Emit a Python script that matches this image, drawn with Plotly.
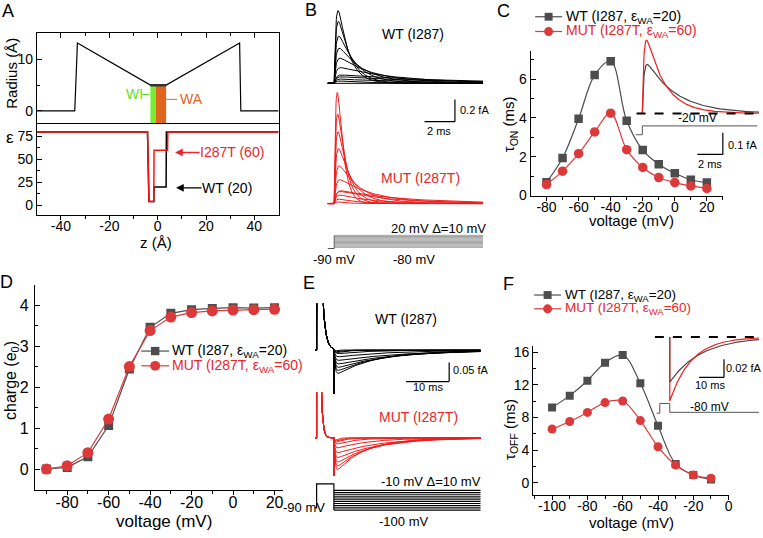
import numpy as np
import plotly.graph_objects as go

W, H = 763, 538
FONT = "Liberation Sans, Arial, sans-serif"

# ======================= DATA =======================
# Panel A: pore radius profile and dielectric profile
z_radius = [-50, -34.3, -33.2, -3.0, 3.5, 33.9, 34.4, 50]
radius_A = [0, 0, 13.2, 5.0, 5.0, 13.2, 0, 0]
z_eps_wt = [-50, -4.2, -3.6, -1.6, -1.5, 3.5, 3.6, 50]
eps_wt = [80, 80, 4, 4, 20, 20, 80, 80]
z_eps_mut = [-50, -4.2, -3.6, -1.6, -1.5, 4.1, 4.2, 50]
eps_mut = [80, 80, 4, 4, 60, 60, 80, 80]
region_names = ["WI", "WA"]
region_z_start = [-3.0, -0.8]
region_z_end = [-0.8, 3.5]
region_radius = [5.0, 5.0]

# Panel C: tau_on vs voltage
v_on = [-80, -70, -60, -50, -40, -30, -20, -10, 0, 10, 20]
tau_on_wt = [0.68, 1.93, 3.95, 6.20, 6.92, 3.85, 2.34, 1.61, 1.14, 0.81, 0.66]
tau_on_mut = [0.56, 1.25, 2.15, 3.27, 4.24, 2.36, 1.44, 0.92, 0.66, 0.49, 0.36]

# Panel D: charge vs voltage
v_charge = [-90, -80, -70, -60, -50, -40, -30, -20, -10, 0, 10, 20]
charge_wt = [0.0, 0.04, 0.30, 1.06, 2.44, 3.46, 3.80, 3.89, 3.92, 3.94, 3.93, 3.94]
charge_mut = [0.0, 0.08, 0.40, 1.22, 2.50, 3.38, 3.71, 3.82, 3.86, 3.88, 3.89, 3.90]

# Panel F: tau_off vs voltage
v_off = [-100, -90, -80, -70, -60, -50, -40, -30, -20, -10]
tau_off_wt = [9.22, 10.67, 12.5, 14.7, 15.64, 12.19, 6.98, 2.3, 0.96, 0.40]
tau_off_mut = [6.58, 7.50, 8.62, 9.82, 10.02, 7.62, 4.41, 2.17, 0.96, 0.56]

# Tick values / labels
A_z_ticks = [-40, -20, 0, 20, 40]
A_z_labels = ["-40", "-20", "0", "20", "40"]
A_r_ticks = [0, 10]
A_r_labels = ["0", "10"]
A_e_ticks = [0, 25, 50, 75]
A_e_labels = ["0", "25", "50", "75"]
C_v_ticks = [-80, -60, -40, -20, 0, 20]
C_v_labels = ["-80", "-60", "-40", "-20", "0", "20"]
C_t_ticks = [0, 2, 4, 6]
C_t_labels = ["0", "2", "4", "6"]
D_v_ticks = [-80, -60, -40, -20, 0, 20]
D_v_labels = ["-80", "-60", "-40", "-20", "0", "20"]
D_q_ticks = [0, 1, 2, 3, 4]
D_q_labels = ["0", "1", "2", "3", "4"]
F_v_ticks = [-100, -80, -60, -40, -20, 0]
F_v_labels = ["-100", "-80", "-60", "-40", "-20", "0"]
F_t_ticks = [0, 4, 8, 12, 16]
F_t_labels = ["0", "4", "8", "12", "16"]

# Simulation / protocol constants (gating currents built from C, D, F data)
E0_FA = 0.16          # fA per (e0/ms)
TR_ON_MS = 0.12
TR_OFF_MS = 0.25
HOLD_MV = -90
PREPULSE_MV = 20
PREPULSE_MS = 4.0
B_END_MS = 9.78
E_END_MS = 38.0
INSET_C_MV = -20
INSET_F_MV = -80
E_FAST_FA = {"WT": 0.115, "MUT": 0.10}

WT_COL = "#4d4d4d"
MUT_COL = "#dc3a3a"
TRACE_RED = "#f01e1e"


# ======================= helpers =======================
def xdom(l, r):
    return [l / W, r / W]


def ydom(top, bot):
    return [1 - bot / H, 1 - top / H]


def xlin(l, r, ref_px, ref_val, ppu):
    return [ref_val + (l - ref_px) / ppu, ref_val + (r - ref_px) / ppu]


def ylin(top, bot, ref_px, ref_val, ppu):
    return [ref_val - (bot - ref_px) / ppu, ref_val + (ref_px - top) / ppu]


def q_at(v, q):
    return float(np.interp(v, v_charge, q))


def tau_at(v, volts, taus):
    return taus[volts.index(v)]


def gating(t, q, tau, tr):
    t = np.asarray(t, float)
    tp = np.clip(t, 0, None)
    if tr > 0:
        y = q / (tau - tr) * (np.exp(-tp / tau) - np.exp(-tp / tr))
    else:
        y = q / tau * np.exp(-tp / tau)
    return np.where(t >= 0, E0_FA * y, 0.0)


fig = go.Figure()


def add(x, y, ax, **kw):
    fig.add_trace(go.Scatter(x=list(x), y=list(y), xaxis="x" + ("" if ax == 1 else str(ax)),
                             yaxis="y" + ("" if ax == 1 else str(ax)), hoverinfo="skip",
                             showlegend=False, **kw))


# ---------------- Panel A ----------------
add(z_radius, radius_A, 1, mode="lines", line=dict(color="black", width=1.2))
add(z_eps_wt, eps_wt, 2, mode="lines", line=dict(color="black", width=1.5))
add(z_eps_mut, eps_mut, 2, mode="lines", line=dict(color="#ff1010", width=1.5))

# ---------------- Panel B ----------------
t_B = np.concatenate([[-0.44], np.linspace(0, B_END_MS, 500)])
for v in v_on:
    add(t_B, gating(t_B, q_at(v, charge_wt), tau_at(v, v_on, tau_on_wt), TR_ON_MS), 3,
        mode="lines", line=dict(color="black", width=1))
for v in v_on:
    add(t_B, gating(t_B, q_at(v, charge_mut), tau_at(v, v_on, tau_on_mut), TR_ON_MS), 4,
        mode="lines", line=dict(color=TRACE_RED, width=1))
add([-0.44, 0, 0], [HOLD_MV, HOLD_MV, max(v_on)], 5, mode="lines", line=dict(color="#555", width=1))
for v in v_on:
    add([0, B_END_MS], [v, v], 5, mode="lines", line=dict(color="#777", width=0.7))

# ---------------- Panel C ----------------
add(v_on, tau_on_wt, 6, mode="lines+markers", line=dict(color=WT_COL, width=1.2, shape="spline"),
    marker=dict(symbol="square", size=8.5, color=WT_COL))
add(v_on, tau_on_mut, 6, mode="lines+markers", line=dict(color=MUT_COL, width=1.2, shape="spline"),
    marker=dict(symbol="circle", size=9.5, color=MUT_COL))
t_C = np.linspace(0, 9.13, 500)
add(t_C, gating(t_C, q_at(INSET_C_MV, charge_wt), tau_at(INSET_C_MV, v_on, tau_on_wt), TR_ON_MS), 7,
    mode="lines", line=dict(color="#444", width=1.2))
add(t_C, gating(t_C, q_at(INSET_C_MV, charge_mut), tau_at(INSET_C_MV, v_on, tau_on_mut), TR_ON_MS), 7,
    mode="lines", line=dict(color=TRACE_RED, width=1.2))
add([-0.52, 0, 0, 9.0], [HOLD_MV, HOLD_MV, INSET_C_MV, INSET_C_MV], 8, mode="lines",
    line=dict(color="#555", width=1))

# ---------------- Panel D ----------------
add(v_charge, charge_wt, 9, mode="lines+markers", line=dict(color=WT_COL, width=1.2),
    marker=dict(symbol="square", size=9, color=WT_COL))
add(v_charge, charge_mut, 9, mode="lines+markers", line=dict(color=MUT_COL, width=1.2),
    marker=dict(symbol="circle", size=11, color=MUT_COL))


# ---------------- Panel E ----------------
def e_trace(v, q, taus_on, taus_off, fast):
    q_pre = q_at(PREPULSE_MV, q)
    tau_pre = tau_at(PREPULSE_MV, v_on, taus_on)
    q_back = q_pre - q_at(v, q)
    tau_b = tau_at(v, v_off, taus_off)
    t1 = np.concatenate([[-0.37], np.linspace(0, PREPULSE_MS, 400, endpoint=False)])
    y1 = gating(t1, q_pre, tau_pre, TR_ON_MS)
    s = np.linspace(0, E_END_MS - PREPULSE_MS, 700)
    y3 = gating(s + PREPULSE_MS, q_pre, tau_pre, TR_ON_MS) - gating(s, q_back, tau_b, TR_OFF_MS)
    t = np.concatenate([t1, [PREPULSE_MS, PREPULSE_MS], s + PREPULSE_MS])
    y = np.concatenate([y1, [float(gating([PREPULSE_MS], q_pre, tau_pre, TR_ON_MS)[0]), -fast], y3])
    return t, y


for v in v_off:
    t, y = e_trace(v, charge_wt, tau_on_wt, tau_off_wt, E_FAST_FA["WT"])
    add(t, y, 10, mode="lines", line=dict(color="black", width=1))
for v in v_off:
    t, y = e_trace(v, charge_mut, tau_on_mut, tau_off_mut, E_FAST_FA["MUT"])
    add(t, y, 11, mode="lines", line=dict(color=TRACE_RED, width=1))
add([-0.37, 0, 0, PREPULSE_MS, PREPULSE_MS], [HOLD_MV, HOLD_MV, PREPULSE_MV, PREPULSE_MV, min(v_off)], 12,
    mode="lines", line=dict(color="black", width=1.2))
for v in v_off:
    add([PREPULSE_MS, E_END_MS], [v, v], 12, mode="lines", line=dict(color="black", width=1.2))

# ---------------- Panel F ----------------
add(v_off, tau_off_wt, 13, mode="lines+markers", line=dict(color=WT_COL, width=1.2, shape="spline"),
    marker=dict(symbol="square", size=8, color=WT_COL))
add(v_off, tau_off_mut, 13, mode="lines+markers", line=dict(color=MUT_COL, width=1.2, shape="spline"),
    marker=dict(symbol="circle", size=9, color=MUT_COL))
t_F = np.linspace(0, 35.9, 600)
for q, taus, col in [(charge_wt, tau_off_wt, "#444"), (charge_mut, tau_off_mut, TRACE_RED)]:
    qb = q_at(PREPULSE_MV, q) - q_at(INSET_F_MV, q)
    yF = -gating(t_F, qb, tau_at(INSET_F_MV, v_off, taus), 0.0)
    add(np.concatenate([[0.0], t_F]), np.concatenate([[0.0], yF]), 14, mode="lines",
        line=dict(color=col, width=1.2))
add([-5.3, -PREPULSE_MS, -PREPULSE_MS, 0, 0, 35.9],
    [HOLD_MV, HOLD_MV, PREPULSE_MV, PREPULSE_MV, INSET_F_MV, INSET_F_MV], 15, mode="lines",
    line=dict(color="#555", width=1))

# ======================= AXES =======================
AX = {
    1: (xdom(37, 280), [-50, 50], ydom(31.7, 124.3), [-2.6, 15.1]),
    2: (xdom(37, 280), [-50, 50], ydom(124.3, 216.7), [-10.7, 88.4]),
    3: (xdom(329.3, 485.7), xlin(329.3, 485.7, 336, 0, 15.3), ydom(3, 90), ylin(3, 90, 82.7, 0, 113)),
    4: (xdom(329.3, 485.7), xlin(329.3, 485.7, 336, 0, 15.3), ydom(88, 212), ylin(88, 212, 205, 0, 113)),
    5: (xdom(329.3, 485.7), xlin(329.3, 485.7, 336, 0, 15.3), ydom(230, 254), ylin(230, 254, 250.7, -90, 0.1218)),
    6: (xdom(533.3, 726.7), [-90, 30], ydom(50, 197.3), [-0.03, 7.435]),
    7: (xdom(638, 763), xlin(638, 763, 645.7, 0, 12.85), ydom(30, 160), ylin(30, 160, 113.3, 0, 220)),
    8: (xdom(638, 763), xlin(638, 763, 645.7, 0, 12.85), ydom(118, 142), ylin(118, 142, 126, -20, 0.1286)),
    9: (xdom(35, 284.3), [-95.6, 24], ydom(287.5, 495.8), [-0.5, 4.5]),
    10: (xdom(316.7, 483.3), xlin(316.7, 483.3, 318.3, 0, 4.34), ydom(306.7, 400), ylin(306.7, 400, 354, 0, 386)),
    11: (xdom(316.7, 483.3), xlin(316.7, 483.3, 318.3, 0, 4.34), ydom(396.7, 485), ylin(396.7, 485, 443.3, 0, 386)),
    12: (xdom(316.7, 483.3), xlin(316.7, 483.3, 318.3, 0, 4.34), ydom(486, 521), ylin(486, 521, 496.7, -10, 0.2222)),
    13: (xdom(536, 733), [-110.7, 0.3], ydom(350, 501.7), [-1.53, 16.73]),
    14: (xdom(658, 763), xlin(658, 763, 673.3, 0, 2.5), ydom(330, 410), ylin(330, 410, 340.7, 0, 920)),
    15: (xdom(658, 763), xlin(658, 763, 673.3, 0, 2.5), ydom(400, 424), ylin(400, 424, 417.3, -80, 0.09)),
}

VISIBLE = {1, 2, 6, 9, 13}
layout_axes = {}


def axname(kind, i):
    return kind + ("axis" if i == 1 else "axis" + str(i))


def ref(kind, i):
    return kind + ("" if i == 1 else str(i))


def vis(domain, rng, anchor, tickvals, ticktext, ticks, size, minor=None, mirror=False,
        side=None, showlabels=True, standoff=None, ticklen=5):
    d = dict(domain=domain, range=rng, anchor=anchor, showline=True, linecolor="black", linewidth=1,
             ticks=ticks, ticklen=ticklen, tickwidth=1, tickcolor="black", tickmode="array",
             tickvals=tickvals, ticktext=ticktext, showticklabels=showlabels,
             tickfont=dict(size=size, family=FONT, color="black"), showgrid=False, zeroline=False,
             mirror=mirror, fixedrange=True)
    if minor is not None:
        d["minor"] = dict(tickmode="array", tickvals=minor, ticklen=3, ticks=ticks, tickcolor="black",
                          tickwidth=1, showgrid=False)
    if side:
        d["side"] = side
    if standoff is not None:
        d["ticklabelstandoff"] = standoff
    return d


for i, (xd, xr, yd, yr) in AX.items():
    if i not in VISIBLE:
        layout_axes[axname("x", i)] = dict(domain=xd, range=xr, visible=False, fixedrange=True,
                                           anchor=ref("y", i), showgrid=False, zeroline=False)
        layout_axes[axname("y", i)] = dict(domain=yd, range=yr, visible=False, fixedrange=True,
                                           anchor=ref("x", i), showgrid=False, zeroline=False)

XSO = -6  # pull x tick labels closer to the axis line
# Panel A axes (top panel: top line + ticks; separator drawn once by the lower panel)
layout_axes["xaxis"] = vis(AX[1][0], AX[1][1], "y", A_z_ticks, A_z_labels, "inside", 14,
                           minor=[-30, -10, 10, 30], mirror=False, side="top", showlabels=False)
layout_axes["yaxis"] = vis(AX[1][2], AX[1][3], "x", A_r_ticks, A_r_labels, "inside", 14,
                           minor=[5, 15], mirror=True)
layout_axes["xaxis2"] = vis(AX[2][0], AX[2][1], "y2", A_z_ticks, A_z_labels, "outside", 14,
                            minor=[-30, -10, 10, 30], mirror=True, standoff=XSO, ticklen=4)
layout_axes["yaxis2"] = vis(AX[2][2], AX[2][3], "x2", A_e_ticks, A_e_labels, "inside", 14,
                            minor=[12.5, 37.5, 62.5], mirror=True)
# Panel C
layout_axes["xaxis6"] = vis(AX[6][0], AX[6][1], "y6", C_v_ticks, C_v_labels, "outside", 14,
                            minor=[-70, -50, -30, -10, 10, 30], standoff=XSO, ticklen=4)
layout_axes["yaxis6"] = vis(AX[6][2], AX[6][3], "x6", C_t_ticks, C_t_labels, "inside", 14,
                            minor=[1, 3, 5, 7])
# Panel D
layout_axes["xaxis9"] = vis(AX[9][0], AX[9][1], "y9", D_v_ticks, D_v_labels, "outside", 16,
                            minor=[-90, -70, -50, -30, -10, 10], standoff=XSO, ticklen=4)
layout_axes["yaxis9"] = vis(AX[9][2], AX[9][3], "x9", D_q_ticks, D_q_labels, "inside", 16,
                            minor=[0.5, 1.5, 2.5, 3.5], standoff=2)
# Panel F
layout_axes["xaxis13"] = vis(AX[13][0], AX[13][1], "y13", F_v_ticks, F_v_labels, "outside", 14,
                             minor=[-110, -90, -70, -50, -30, -10], standoff=XSO, ticklen=4)
layout_axes["yaxis13"] = vis(AX[13][2], AX[13][3], "x13", F_t_ticks, F_t_labels, "inside", 14,
                             minor=[2, 6, 10, 14])

# ======================= SHAPES =======================
shapes = []


def pline(x0, y0, x1, y1, color="black", width=1.2, dash=None):
    d = dict(type="line", xref="paper", yref="paper", x0=x0 / W, x1=x1 / W, y0=1 - y0 / H, y1=1 - y1 / H,
             line=dict(color=color, width=width))
    if dash:
        d["line"]["dash"] = dash
    shapes.append(d)


def dline(ax, x0, y0, x1, y1, color="black", width=1.2, dash=None, layer="above"):
    d = dict(type="line", xref=ref("x", ax), yref=ref("y", ax), x0=x0, x1=x1, y0=y0, y1=y1,
             line=dict(color=color, width=width), layer=layer)
    if dash:
        d["line"]["dash"] = dash
    shapes.append(d)


# A: WI / WA regions
region_cols = ["#77ee33", "#e0661e"]
for name, z0, z1, r, c in zip(region_names, region_z_start, region_z_end, region_radius, region_cols):
    shapes.append(dict(type="rect", xref="x", yref="y", x0=z0, x1=z1, y0=AX[1][3][0], y1=r,
                       fillcolor=c, line=dict(width=0), layer="below"))
dline(1, region_z_start[0], region_radius[0], region_z_end[-1], region_radius[-1], color="#333", width=2.5)
pline(143, 94, 150.5, 94, color="#55dd22", width=1)
pline(167, 99, 178, 99, color="#e0661e", width=1)

# scale bars
by0 = (205 - 121.7) / 113
dline(4, 5.93, by0, 7.93, by0)
dline(4, 7.93, by0, 7.93, by0 + 0.2)
dline(7, 4.3, -0.1895, 6.3, -0.1895)
dline(7, 6.3, -0.1895, 6.3, -0.0895)
dline(7, -0.45, 0, 9.13, 0, width=2, dash="dash")
ey0 = (354 - 386) / 386
dline(10, 20.7, ey0, 30.7, ey0)
dline(10, 30.7, ey0, 30.7, ey0 + 0.05)
dline(14, -6.0, 0, 35.88, 0, width=2, dash="dash")
fy0 = (340.7 - 381.7) / 920
dline(14, 11.8, fy0, 21.8, fy0)
dline(14, 21.8, fy0, 21.8, fy0 + 0.02)


# legends
def legend_item(xl, xr, y, symbol, size, color):
    pline(xl, y, xr, y, color=color, width=1.2)
    cx = (xl + xr) / 2
    shapes.append(dict(type="rect" if symbol == "square" else "circle", xref="paper", yref="paper",
                       x0=(cx - size / 2) / W, x1=(cx + size / 2) / W,
                       y0=1 - (y + size / 2) / H, y1=1 - (y - size / 2) / H,
                       fillcolor=color, line=dict(width=0)))


legend_item(538, 565, 15, "square", 8, WT_COL)
legend_item(538, 565, 30, "circle", 9, MUT_COL)
legend_item(142, 170, 355, "square", 8.5, WT_COL)
legend_item(142, 170, 370, "circle", 10, MUT_COL)
legend_item(537, 564, 298, "square", 8, WT_COL)
legend_item(537, 564, 312, "circle", 9, MUT_COL)

# ======================= ANNOTATIONS =======================
anns = []


def ann(text, x, y, size=14, color="black", xanchor="center", angle=0):
    anns.append(dict(text=text, x=x / W, y=1 - y / H, xref="paper", yref="paper", showarrow=False,
                     font=dict(size=size, color=color, family=FONT), xanchor=xanchor, yanchor="middle",
                     textangle=angle, borderpad=0))


for letter, x, y in [("A", 8, 9), ("B", 313, 8), ("C", 506, 9), ("D", 7, 285), ("E", 311, 286), ("F", 511, 287)]:
    ann(letter, x, y, size=18)

# A
ann("Radius (Å)", 12, 72, size=15, angle=-90)
ann("ε", 10, 138, size=17)
ann("z (Å)", 157, 245, size=15)
ann("WI", 135.5, 94, size=14, color="#66e022")
ann("WA", 192.5, 99, size=14, color="#e0661e")
for txt, hx, hy, axo, col in [("I287T (60)", 176, 153, 57, "#e8262b"), ("WT (20)", 177, 189, 51, "black")]:
    anns.append(dict(text=txt, x=hx / W, y=1 - hy / H, xref="paper", yref="paper", showarrow=True,
                     ax=axo, ay=0, arrowhead=2, arrowsize=1.1, arrowwidth=1.4, arrowcolor=col,
                     font=dict(size=14, color=col, family=FONT), borderpad=0))
# B
ann("WT (I287)", 415, 33, size=14)
ann("MUT (I287T)", 423, 179, size=14, color="#e8262b")
ann("0.2 fA", 461.7, 110, size=11, xanchor="left")
ann("2 ms", 441.7, 131, size=11)
ann("20 mV Δ=10 mV", 490, 230, size=13, xanchor="right")
ann("-90 mV", 336, 262, size=13)
ann("-80 mV", 416, 262, size=13)
# C
ann("τ<sub>ON</sub> (ms)", 513, 124, size=15, angle=-90)
ann("voltage (mV)", 635, 222, size=15)
ann("WT (I287, ε<sub>WA</sub>=20)", 568, 15, size=14, xanchor="left")
ann("MUT (I287T, ε<sub>WA</sub>=60)", 568, 30, size=14, color="#e8262b", xanchor="left")
ann("-20 mV", 701, 118, size=12)
ann("0.1 fA", 730.5, 145.7, size=11, xanchor="left")
ann("2 ms", 713.3, 164.3, size=11)
# D
ann("charge (e<sub>0</sub>)", 11.5, 385, size=16, angle=-90)
ann("voltage (mV)", 165, 528, size=17)
ann("WT (I287, ε<sub>WA</sub>=20)", 172, 355, size=14, xanchor="left")
ann("MUT (I287T, ε<sub>WA</sub>=60)", 172, 370, size=14, color="#e8262b", xanchor="left")
# E
ann("WT (I287)", 408, 322, size=14)
ann("MUT (I287T)", 421, 422, size=14, color="#e8262b")
ann("0.05 fA", 454, 374, size=11, xanchor="left")
ann("10 ms", 430, 392, size=11)
ann("-10 mV Δ=10 mV", 485, 488, size=13, xanchor="right")
ann("-100 mV", 406, 528, size=13)
ann("-90 mV", 306, 514, size=13)
# F
ann("τ<sub>OFF</sub> (ms)", 513, 435, size=15, angle=-90)
ann("voltage (mV)", 635, 529, size=15)
ann("WT (I287, ε<sub>WA</sub>=20)", 567, 298, size=13.5, xanchor="left")
ann("MUT (I287T, ε<sub>WA</sub>=60)", 567, 312, size=13.5, color="#e8262b", xanchor="left")
ann("0.02 fA", 729, 372.3, size=11, xanchor="left")
ann("10 ms", 713.3, 390, size=11)
ann("-80 mV", 713, 411.7, size=12)

fig.update_layout(
    width=W, height=H, autosize=False,
    margin=dict(l=0, r=0, t=0, b=0, pad=0),
    paper_bgcolor="white", plot_bgcolor="rgba(0,0,0,0)",
    showlegend=False, shapes=shapes, annotations=anns,
    font=dict(family=FONT, color="black"),
    hovermode=False,
    **layout_axes,
)

# remove the default 8px page margin so the figure sits at the window origin; hide the modebar
fig.write_html("out.html", config={"displayModeBar": False, "staticPlot": True},
               post_script="document.body.style.margin='0px';document.body.style.padding='0px';")
